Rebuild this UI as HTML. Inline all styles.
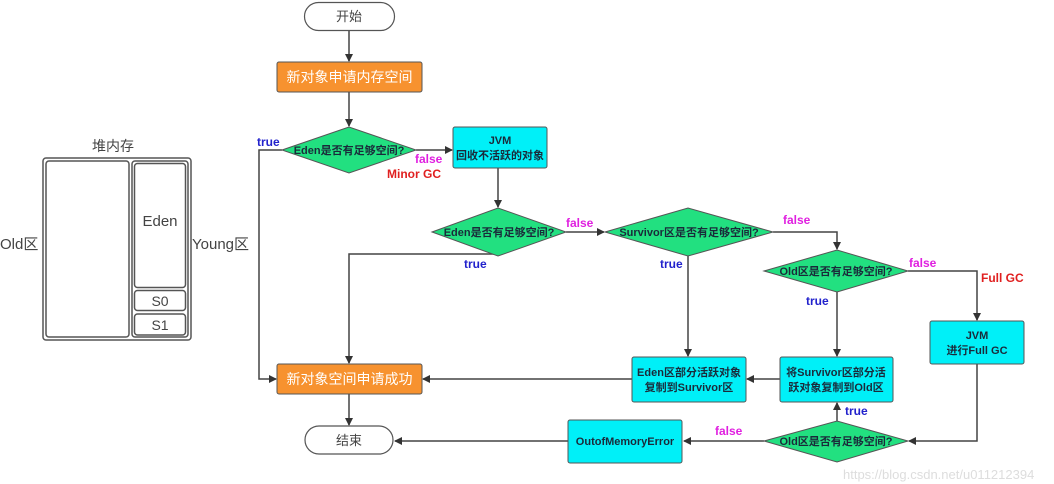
<!DOCTYPE html>
<html><head><meta charset="utf-8"><style>
html,body{margin:0;padding:0;background:#fff;}
svg{display:block;font-family:"Liberation Sans","Noto Sans CJK SC",sans-serif;}
.b{font-weight:bold;font-size:11px;fill:#1a2a3a;}
.t{fill:#2222cc;font-weight:bold;font-size:12px;}
.f{fill:#e020e0;font-weight:bold;font-size:12px;}
.r{fill:#e02020;font-weight:bold;font-size:12px;}
</style></head><body>
<svg width="1054" height="484" viewBox="0 0 1054 484">
<defs><marker id="a" markerWidth="8" markerHeight="8" refX="7" refY="4" orient="auto" markerUnits="userSpaceOnUse"><path d="M0,0 L8,4 L0,8 z" fill="#333"/></marker></defs>
<!-- heap -->
<text x="113" y="151" font-size="14" text-anchor="middle" fill="#444">堆内存</text>
<rect x="43" y="158" width="148" height="182" rx="3" fill="#fff" stroke="#555" stroke-width="1.5"/>
<rect x="46" y="161" width="83" height="176" rx="3" fill="#fff" stroke="#555" stroke-width="1.5"/>
<rect x="132" y="161" width="56" height="176" rx="3" fill="#fff" stroke="#555" stroke-width="1.5"/>
<rect x="134.5" y="163.5" width="51" height="124" rx="3" fill="#fff" stroke="#555" stroke-width="1.5"/>
<rect x="134.5" y="290.5" width="51" height="20" rx="3" fill="#fff" stroke="#555" stroke-width="1.5"/>
<rect x="134.5" y="314" width="51" height="21" rx="3" fill="#fff" stroke="#555" stroke-width="1.5"/>
<text x="160" y="226" font-size="15" text-anchor="middle" fill="#444">Eden</text>
<text x="160" y="306" font-size="14" text-anchor="middle" fill="#444">S0</text>
<text x="160" y="330" font-size="14" text-anchor="middle" fill="#444">S1</text>
<text x="0" y="249" font-size="15" fill="#444">Old区</text>
<text x="192" y="249" font-size="15" fill="#444">Young区</text>
<!-- lines -->
<g stroke="#444" stroke-width="1.5" fill="none">
<line x1="349" y1="30" x2="349" y2="61" marker-end="url(#a)"/>
<line x1="349" y1="92" x2="349" y2="126" marker-end="url(#a)"/>
<polyline points="282,150 259,150 259,379 276,379" marker-end="url(#a)"/>
<line x1="416" y1="150" x2="452" y2="150" marker-end="url(#a)"/>
<line x1="498" y1="168" x2="498" y2="207" marker-end="url(#a)"/>
<line x1="566" y1="232" x2="604" y2="232" marker-end="url(#a)"/>
<polyline points="498,254 349,254 349,363" marker-end="url(#a)"/>
<polyline points="773,232 837,232 837,249" marker-end="url(#a)"/>
<line x1="688" y1="254" x2="688" y2="356" marker-end="url(#a)"/>
<line x1="837" y1="292" x2="837" y2="356" marker-end="url(#a)"/>
<polyline points="908,271 977,271 977,320" marker-end="url(#a)"/>
<polyline points="977,364 977,441 909,441" marker-end="url(#a)"/>
<line x1="837" y1="421" x2="837" y2="403" marker-end="url(#a)"/>
<line x1="764" y1="441" x2="684" y2="441" marker-end="url(#a)"/>
<line x1="568" y1="441" x2="395" y2="441" marker-end="url(#a)"/>
<line x1="780" y1="379" x2="747" y2="379" marker-end="url(#a)"/>
<line x1="632" y1="379" x2="423" y2="379" marker-end="url(#a)"/>
<line x1="349" y1="394" x2="349" y2="425" marker-end="url(#a)"/>
</g>
<!-- nodes -->
<rect x="304.5" y="2.5" width="90" height="28" rx="14" fill="#fff" stroke="#555" stroke-width="1.2"/>
<text x="349" y="21" font-size="13" text-anchor="middle" fill="#444">开始</text>
<rect x="277" y="62" width="145" height="30" rx="2" fill="#f7922f" stroke="#555"/>
<text x="349.5" y="82" font-size="14" text-anchor="middle" fill="#fff">新对象申请内存空间</text>
<polygon points="282,150 349,127 416,150 349,173" fill="#22e080" stroke="#555"/>
<text x="349" y="154" class="b" text-anchor="middle">Eden是否有足够空间?</text>
<rect x="453" y="127" width="94" height="41" rx="2" fill="#00f0f8" stroke="#555"/>
<text x="500" y="144" class="b" text-anchor="middle">JVM</text>
<text x="500" y="159" class="b" text-anchor="middle">回收不活跃的对象</text>
<polygon points="432,232 498,208 566,232 498,256" fill="#22e080" stroke="#555"/>
<text x="499" y="236" class="b" text-anchor="middle">Eden是否有足够空间?</text>
<polygon points="605,232 688,208 773,232 688,256" fill="#22e080" stroke="#555"/>
<text x="689" y="236" class="b" text-anchor="middle">Survivor区是否有足够空间?</text>
<polygon points="764,271 837,250 908,271 837,292" fill="#22e080" stroke="#555"/>
<text x="836" y="275" class="b" text-anchor="middle">Old区是否有足够空间?</text>
<rect x="930" y="321" width="94" height="43" rx="2" fill="#00f0f8" stroke="#555"/>
<text x="977" y="339" class="b" text-anchor="middle">JVM</text>
<text x="977" y="354" class="b" text-anchor="middle">进行Full GC</text>
<rect x="632" y="357" width="114" height="45" rx="2" fill="#00f0f8" stroke="#555"/>
<text x="689" y="376" class="b" text-anchor="middle">Eden区部分活跃对象</text>
<text x="689" y="391" class="b" text-anchor="middle">复制到Survivor区</text>
<rect x="780" y="357" width="113" height="45" rx="2" fill="#00f0f8" stroke="#555"/>
<text x="836" y="376" class="b" text-anchor="middle">将Survivor区部分活</text>
<text x="836" y="391" class="b" text-anchor="middle">跃对象复制到Old区</text>
<rect x="277" y="364" width="145" height="30" rx="2" fill="#f7922f" stroke="#555"/>
<text x="349.5" y="384" font-size="14" text-anchor="middle" fill="#fff">新对象空间申请成功</text>
<rect x="305" y="426" width="88" height="28" rx="14" fill="#fff" stroke="#555" stroke-width="1.2"/>
<text x="349" y="445" font-size="13" text-anchor="middle" fill="#444">结束</text>
<rect x="568" y="420" width="114" height="43" rx="2" fill="#00f0f8" stroke="#555"/>
<text x="625" y="445" class="b" text-anchor="middle">OutofMemoryError</text>
<polygon points="764,441 837,421 908,441 837,462" fill="#22e080" stroke="#555"/>
<text x="836" y="445" class="b" text-anchor="middle">Old区是否有足够空间?</text>
<!-- labels -->
<text x="257" y="146" class="t">true</text>
<text x="415" y="163" class="f">false</text>
<text x="387" y="178" class="r">Minor GC</text>
<text x="566" y="227" class="f">false</text>
<text x="464" y="268" class="t">true</text>
<text x="783" y="224" class="f">false</text>
<text x="660" y="268" class="t">true</text>
<text x="806" y="305" class="t">true</text>
<text x="909" y="267" class="f">false</text>
<text x="981" y="282" class="r">Full GC</text>
<text x="845" y="415" class="t">true</text>
<text x="715" y="435" class="f">false</text>
<text x="843" y="479" font-size="13" fill="#ddd">https://blog.csdn.net/u011212394</text>
</svg>
</body></html>
